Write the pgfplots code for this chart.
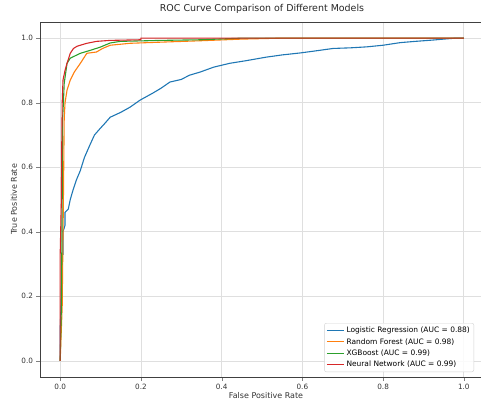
\documentclass[border=0pt]{standalone}
\usepackage{fontspec}
\setmainfont{DejaVu Sans}
\usepackage{pgfplots}
\pgfplotsset{compat=1.18}

\definecolor{tabblue}{HTML}{1F77B4}
\definecolor{taborange}{HTML}{FF7F0E}
\definecolor{tabgreen}{HTML}{2CA02C}
\definecolor{tabred}{HTML}{D62728}

\begin{document}
\begin{tikzpicture}
\begin{axis}[
  name=roc,
  scale only axis,
  width=444bp, height=355bp,
  xmin=-0.05, xmax=1.05,
  ymin=-0.05, ymax=1.05,
  xtick={0,0.2,0.4,0.6,0.8,1.0},
  ytick={0,0.2,0.4,0.6,0.8,1.0},
  xticklabels={0.0,0.2,0.4,0.6,0.8,1.0},
  yticklabels={0.0,0.2,0.4,0.6,0.8,1.0},
  tick align=outside, tick pos=left,
  major tick length=3.5bp,
  grid=major,
  grid style={gray!25, line width=0.7pt},
  axis line style={black!75, line width=0.7pt},
  /pgf/number format/assume math mode=true,
  tick label style={font=\fontsize{7.3}{9}\selectfont, text=black!80},
  label style={font=\fontsize{8}{9}\selectfont, text=black!80},
  title style={font=\fontsize{9.5}{11}\selectfont, text=black!85,
    at={(axis description cs:0.5,1)}, anchor=base, yshift=5bp},
  title={ROC Curve Comparison of Different Models},
  xlabel={False Positive Rate},
  ylabel={True Positive Rate},
  xlabel style={at={(axis description cs:0.5,0)}, anchor=base, yshift=-21bp, xshift=4bp},
  ylabel style={at={(axis description cs:0,0.5)}, anchor=center, yshift=26bp},
  legend style={at={(rel axis cs:0.9775,0.014)}, anchor=south east,
    font=\fontsize{7.5}{8.5}\selectfont, draw=gray!35, rounded corners=2pt,
    fill=white, fill opacity=0.85, text opacity=1, row sep=0pt,
    inner sep=2pt},
  legend cell align=left,
  legend image code/.code={\draw[#1, line width=1.1pt] (0bp,0bp) -- (17bp,0bp);},
  every axis plot/.append style={line width=1.1pt},
]
% Logistic Regression
\addplot[tabblue] coordinates {
(0,0) (0,0.10) (0.003,0.20) (0.005,0.33) (0.007,0.33) (0.007,0.40)
(0.012,0.42) (0.012,0.46) (0.02,0.47) (0.025,0.50) (0.032,0.53)
(0.04,0.56) (0.05,0.59) (0.06,0.63) (0.074,0.67) (0.085,0.70)
(0.099,0.72) (0.11,0.735) (0.124,0.755) (0.15,0.77) (0.173,0.786)
(0.198,0.808) (0.23,0.83) (0.25,0.845) (0.272,0.864) (0.30,0.872)
(0.32,0.885) (0.347,0.895) (0.38,0.91) (0.42,0.922) (0.46,0.93)
(0.51,0.941) (0.55,0.948) (0.594,0.954) (0.63,0.96) (0.676,0.968)
(0.72,0.97) (0.76,0.973) (0.80,0.978) (0.842,0.986) (0.88,0.99)
(0.923,0.994) (0.95,0.997) (0.98,1.0) (1.0,1.0)
};
\addlegendentry{Logistic Regression (AUC = 0.88)}
% Random Forest
\addplot[taborange] coordinates {
(0,0) (0.005,0.17) (0.008,0.50) (0.010,0.75) (0.012,0.80)
(0.017,0.839) (0.025,0.87) (0.035,0.895) (0.05,0.922) (0.066,0.953)
(0.09,0.957) (0.105,0.968) (0.124,0.978) (0.173,0.984) (0.26,0.988)
(0.35,0.992) (0.45,0.997) (0.55,1.0) (1.0,1.0)
};
\addlegendentry{Random Forest (AUC = 0.98)}
% XGBoost
\addplot[tabgreen] coordinates {
(0,0) (0.003,0.17) (0.005,0.50) (0.006,0.75) (0.008,0.80)
(0.010,0.86) (0.017,0.922) (0.025,0.938) (0.05,0.953) (0.074,0.962)
(0.099,0.972) (0.124,0.985) (0.149,0.99) (0.25,0.993) (0.35,0.995)
(0.45,1.0) (1.0,1.0)
};
\addlegendentry{XGBoost (AUC = 0.99)}
% Neural Network
\addplot[tabred] coordinates {
(0,0) (0,0.33) (0.003,0.50) (0.004,0.68) (0.005,0.80) (0.007,0.87)
(0.012,0.90) (0.017,0.922) (0.025,0.953) (0.033,0.968) (0.042,0.975)
(0.066,0.984) (0.09,0.99) (0.124,0.993) (0.20,0.995) (0.20,1.0)
(1.0,1.0)
};
\addlegendentry{Neural Network (AUC = 0.99)}
\end{axis}
\pgfresetboundingbox
\path ([shift={(-40bp,-23bp)}]roc.south west) rectangle ([shift={(-3bp,22bp)}]roc.north east);
\end{tikzpicture}
\end{document}
